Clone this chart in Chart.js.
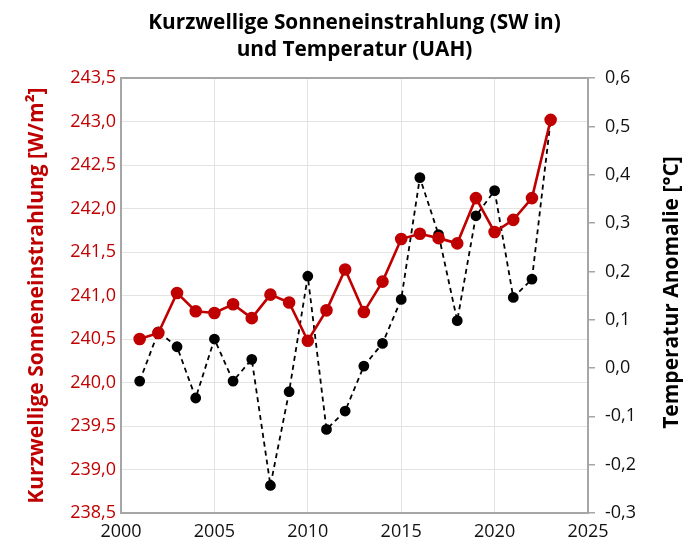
<!DOCTYPE html>
<html>
<head>
<meta charset="utf-8">
<script src="https://cdn.jsdelivr.net/npm/chart.js@4"></script>
<style>
  body { margin: 0; background: #fff; }
  #wrap { width: 700px; height: 552px; }
</style>
</head>
<body>
<div id="wrap"><canvas id="myChart"></canvas></div>
<script>
"use strict";
// Jahre und Werte
const Years = [2001, 2002, 2003, 2004, 2005, 2006, 2007, 2008, 2009, 2010, 2011, 2012,
    2013, 2014, 2015, 2016, 2017, 2018, 2019, 2020, 2021, 2022, 2023];
const SwIn = [240.50, 240.57, 241.03, 240.82, 240.80, 240.90, 240.74, 241.01, 240.92, 240.48, 240.83, 241.30,
    240.81, 241.16, 241.65, 241.71, 241.66, 241.60, 242.12, 241.73, 241.87, 242.12, 243.02];
const TempUah = [-0.027, 0.075, 0.044, -0.062, 0.060, -0.027, 0.018, -0.243, -0.049, 0.190, -0.127, -0.089,
    0.004, 0.051, 0.142, 0.394, 0.276, 0.098, 0.315, 0.367, 0.146, 0.184, 0.513];

const TitleLines = ["Kurzwellige Sonneneinstrahlung (SW in)", "und Temperatur (UAH)"];
const LeftTitle = "Kurzwellige Sonneneinstrahlung [W/m²]";
const RightTitle = "Temperatur Anomalie [°C]";

const RED = '#c00000';
const BORDER = '#a6a6a6';
const GRID = '#e3e3e3';
const FONT = "'Open Sans', 'Noto Sans', sans-serif";

function toPoints(xs, ys) {
    let pts = [];
    for (let i = 0; i < xs.length; i++) {
        pts.push({ x: xs[i], y: ys[i] });
    }
    return pts;
}

function comma(v) {
    return v.toFixed(1).replace('.', ',');
}

// rechter Achsentitel, von unten nach oben gelesen
const rightTitlePlugin = {
    id: 'rightTitle',
    afterDraw(chart) {
        const ctx = chart.ctx;
        const area = chart.chartArea;
        ctx.save();
        ctx.translate(672, (area.top + area.bottom) / 2 - 3);
        ctx.rotate(-Math.PI / 2);
        ctx.font = "bold 21px " + FONT;
        ctx.fillStyle = '#000';
        ctx.textAlign = 'center';
        ctx.textBaseline = 'middle';
        ctx.fillText(RightTitle, 0, 0);
        ctx.restore();
    }
};

DrawChart();

function DrawChart() {
    const data = {
        datasets: [{
            label: 'SW in',
            data: toPoints(Years, SwIn),
            borderColor: RED,
            backgroundColor: RED,
            borderWidth: 2.6,
            pointRadius: 5,
            pointHoverRadius: 5,
            yAxisID: 'y'
        }, {
            label: 'UAH',
            data: toPoints(Years, TempUah),
            borderColor: '#000',
            backgroundColor: '#000',
            borderWidth: 1.8,
            borderDash: [5, 4],
            pointRadius: 4.5,
            pointHoverRadius: 4.5,
            yAxisID: 'y2'
        }]
    };
    const config = {
        type: 'line',
        data: data,
        options: {
            responsive: true,
            maintainAspectRatio: false,
            animation: false,
            layout: { padding: 0 },
            plugins: {
                legend: { display: false },
                tooltip: { enabled: false },
                title: {
                    display: true,
                    fullSize: false,
                    text: TitleLines,
                    color: '#000',
                    font: { family: FONT, size: 20.8, weight: 'bold', lineHeight: 1.3 },
                    padding: { top: 10, bottom: 14 }
                }
            },
            scales: {
                x: {
                    type: 'linear',
                    min: 2000,
                    max: 2025,
                    afterFit(scale) { scale.height = 39; },
                    ticks: {
                        stepSize: 5,
                        color: '#111',
                        padding: 8,
                        font: { family: FONT, size: 18 },
                        callback: (v) => String(v)
                    },
                    grid: { color: GRID, lineWidth: 1, drawTicks: false },
                    border: { display: true, color: BORDER, width: 2 }
                },
                y: {
                    position: 'left',
                    min: 238.5,
                    max: 243.5,
                    afterFit(scale) { scale.width = 121; },
                    ticks: {
                        stepSize: 0.5,
                        color: RED,
                        padding: 5,
                        font: { family: FONT, size: 18 },
                        callback: (v) => comma(v)
                    },
                    grid: {
                        drawTicks: false,
                        color: (c) => (c.tick && c.tick.value === 243.5) ? BORDER : GRID,
                        lineWidth: (c) => (c.tick && c.tick.value === 243.5) ? 2 : 1
                    },
                    border: { display: true, color: BORDER, width: 2 },
                    title: {
                        display: true,
                        text: LeftTitle,
                        color: RED,
                        font: { family: FONT, size: 21, weight: 'bold' },
                        padding: { top: 24, bottom: 0 }
                    }
                },
                y2: {
                    position: 'right',
                    min: -0.3,
                    max: 0.6,
                    afterFit(scale) { scale.width = 112; },
                    ticks: {
                        stepSize: 0.1,
                        color: '#111',
                        padding: 10,
                        font: { family: FONT, size: 18 },
                        callback: (v) => comma(v)
                    },
                    grid: { drawOnChartArea: false, drawTicks: true, tickLength: 7, color: BORDER, lineWidth: 1.5 },
                    border: { display: true, color: BORDER, width: 2 }
                }
            }
        },
        plugins: [rightTitlePlugin]
    };
    const myChart = new Chart(document.getElementById('myChart'), config);
}
</script>
</body>
</html>
